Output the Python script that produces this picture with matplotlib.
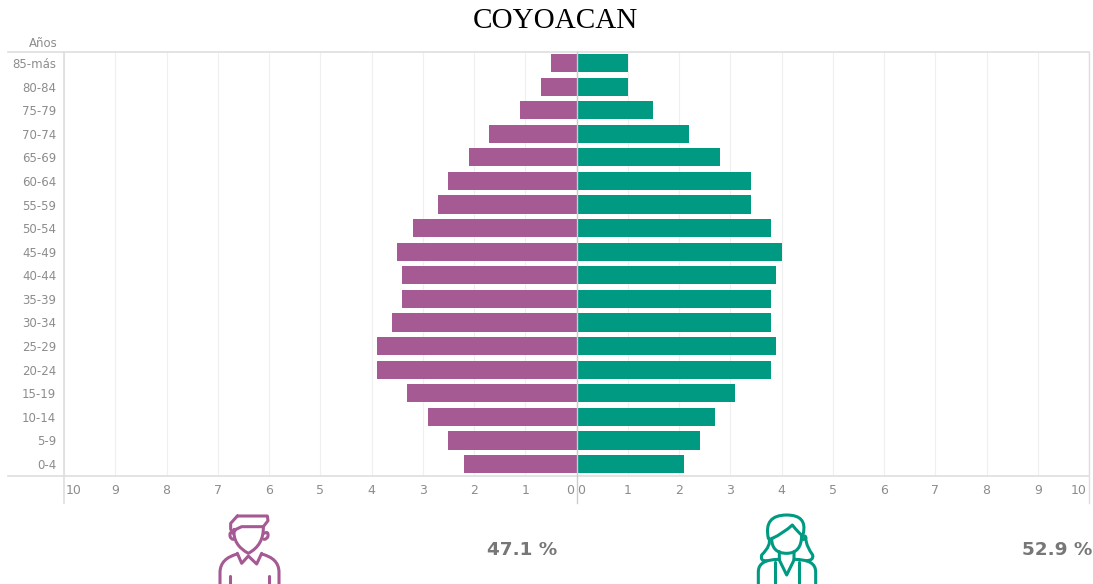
import matplotlib
matplotlib.use("Agg")
import matplotlib.pyplot as plt
from matplotlib.patches import PathPatch
from matplotlib.path import Path
from matplotlib.transforms import blended_transform_factory, ScaledTranslation

W, H = 1093, 584
age_groups = ["85-más", "80-84", "75-79", "70-74", "65-69", "60-64", "55-59", "50-54", "45-49",
              "40-44", "35-39", "30-34", "25-29", "20-24", "15-19", "10-14", "5-9", "0-4"]
men = [0.5, 0.7, 1.1, 1.7, 2.1, 2.5, 2.7, 3.2, 3.5, 3.4, 3.4, 3.6, 3.9, 3.9, 3.3, 2.9, 2.5, 2.2]
women = [1.0, 1.0, 1.5, 2.2, 2.8, 3.4, 3.4, 3.8, 4.0, 3.9, 3.8, 3.8, 3.9, 3.8, 3.1, 2.7, 2.4, 2.1]
tick_values = list(range(-10, 11))
men_color = "#A55A94"
women_color = "#009A83"
grey = "#8C8C8C"
line_grey = "#DEDEDE"
grid_grey = "#F0F0F0"
font = ["DejaVu Sans"]

fig = plt.figure(figsize=(W / 100, H / 100), dpi=100)
ax = fig.add_axes([64 / W, 1 - 476 / H, (1089 - 64) / W, (476 - 52) / H])
positions = list(range(len(age_groups)))
ax.barh(positions, [-v for v in men], height=0.77, color=men_color, zorder=3)
ax.barh(positions, women, height=0.77, color=women_color, zorder=3)
ax.set_xlim(-10, 10)
ax.set_ylim(17.508, -0.466)
for s in ax.spines.values():
    s.set_visible(False)
ax.set_xticks(tick_values)
ax.xaxis.grid(True, color=grid_grey, lw=0.9, zorder=0)
ax.tick_params(axis="x", length=0, labelbottom=False)
ax.set_yticks(positions)
ax.set_yticklabels(age_groups, fontsize=8.5, color=grey, family=font)
ax.tick_params(axis="y", length=0, pad=5.5)

# Frame lines that run past the plot area
tb = blended_transform_factory(ax.transData, fig.transFigure)
ta = blended_transform_factory(fig.transFigure, ax.transAxes)
for yy in (0, 1):
    ax.plot([8 / W, 1089 / W], [yy, yy], transform=ta, color=line_grey, lw=1.2, clip_on=False, zorder=4)
for xv, col, lw in ((-10, line_grey, 1.2), (0, "#CCCCCC", 1.0), (10, line_grey, 1.0)):
    ax.plot([xv, xv], [1 - 503 / H, 1 - 52 / H], transform=tb, color=col, lw=lw, clip_on=False, zorder=5)

# Mirrored x tick labels: the ends and zeros sit inside the lines
for v in tick_values:
    dx = 0
    if abs(v) == 10:
        dx = -10 if v > 0 else 9.5
    label_list = [(v, dx)]
    if v == 0:
        label_list = [(0, -6.5), (0, 4.5)]
    for val, off in label_list:
        t = tb + ScaledTranslation(off / 100, 0, fig.dpi_scale_trans)
        ax.text(val, 1 - 491 / H, str(abs(val)), transform=t, ha="center", va="center",
                fontsize=9, color=grey, family=font)

fig.text(43.5 / W, 1 - 43.5 / H, "Años", ha="center", va="center", fontsize=8.5, color=grey, family=font)
fig.text(555.5 / W, 1 - 20.5 / H, "COYOACAN", ha="center", va="center", fontsize=21,
         color="black", family="Liberation Serif")
fig.text(522.5 / W, 1 - 550 / H, "47.1 %", ha="center", va="center", fontsize=13.2,
         fontweight="bold", color="#777777", family=font)
fig.text(1057 / W, 1 - 550 / H, "52.9 %", ha="center", va="center", fontsize=13.2,
         fontweight="bold", color="#777777", family=font)

# Person icons, drawn in pixel coordinates on an overlay
ov = fig.add_axes([0, 0, 1, 1], facecolor="none")
ov.set_xlim(0, W)
ov.set_ylim(H, 0)
ov.axis("off")
M, C, L = Path.MOVETO, Path.CURVE3, Path.LINETO


def stroke(pts, color, x0, y0, lw=2.2):
    verts, codes = [], []
    for i, p in enumerate(pts):
        code = M if i == 0 else (C if len(p) == 3 else L)
        verts.append((x0 + p[0] / 3, y0 + p[1] / 3))
        codes.append(code)
    ov.add_patch(PathPatch(Path(verts, codes), fc="none", ec=color, lw=lw,
                           capstyle="round", joinstyle="round", clip_on=False))


def curve(*segments):
    """Segments of (ctrl, end) pairs after a start point, as quadratic Béziers."""
    pts = [segments[0]]
    for ctrl, end in segments[1:]:
        pts.append((ctrl[0], ctrl[1], 1))
        pts.append((end[0], end[1], 1))
    return pts


mx, my = 180, 470
man_paths = [
    [(172, 138), (262, 138), (264, 152), (250, 170), (185, 170), (168, 178), (160, 188),
     (152, 178), (152, 160), (172, 138)],
    curve((162, 178), ((158, 225), (205, 250)), ((252, 225), (250, 170))),
    curve((160, 190), ((148, 182), (150, 198)), ((152, 208), (160, 208))),
    curve((252, 190), ((266, 182), (264, 198)), ((262, 208), (252, 208))),
    [(172, 250), (185, 280), (205, 258), (230, 282), (245, 250)],
    curve((172, 252), ((122, 265), (120, 305))) + [(120, 342)],
    curve((245, 252), ((296, 265), (297, 305))) + [(297, 342)],
    [(150, 318), (150, 342)],
    [(267, 318), (267, 342)],
]
for p in man_paths:
    stroke(p, men_color, mx, my)

wx, wy = 720, 470
woman_paths = [
    curve((145, 205), ((130, 135), (200, 135)), ((262, 135), (250, 190))),
    curve((157, 205), ((190, 190), (217, 165)), ((235, 188), (245, 195))),
    curve((155, 205), ((155, 250), (200, 250)), ((245, 250), (245, 195))),
    curve((147, 205), ((155, 225), (125, 255)), ((120, 275), (140, 272))),
    curve((258, 210), ((260, 230), (278, 255)), ((282, 272), (258, 272))),
    [(178, 245), (178, 270), (200, 315), (222, 270), (222, 245)],
    curve((178, 268), ((115, 268), (115, 305))) + [(115, 342)],
    curve((222, 268), ((287, 268), (287, 305))) + [(287, 342)],
    [(165, 275), (165, 342)],
    [(236, 275), (236, 342)],
    curve((246, 198), ((258, 195), (258, 205)), ((250, 212), (246, 205))),
]
for p in woman_paths:
    stroke(p, women_color, wx, wy)

fig.savefig("out.png", dpi=100)
